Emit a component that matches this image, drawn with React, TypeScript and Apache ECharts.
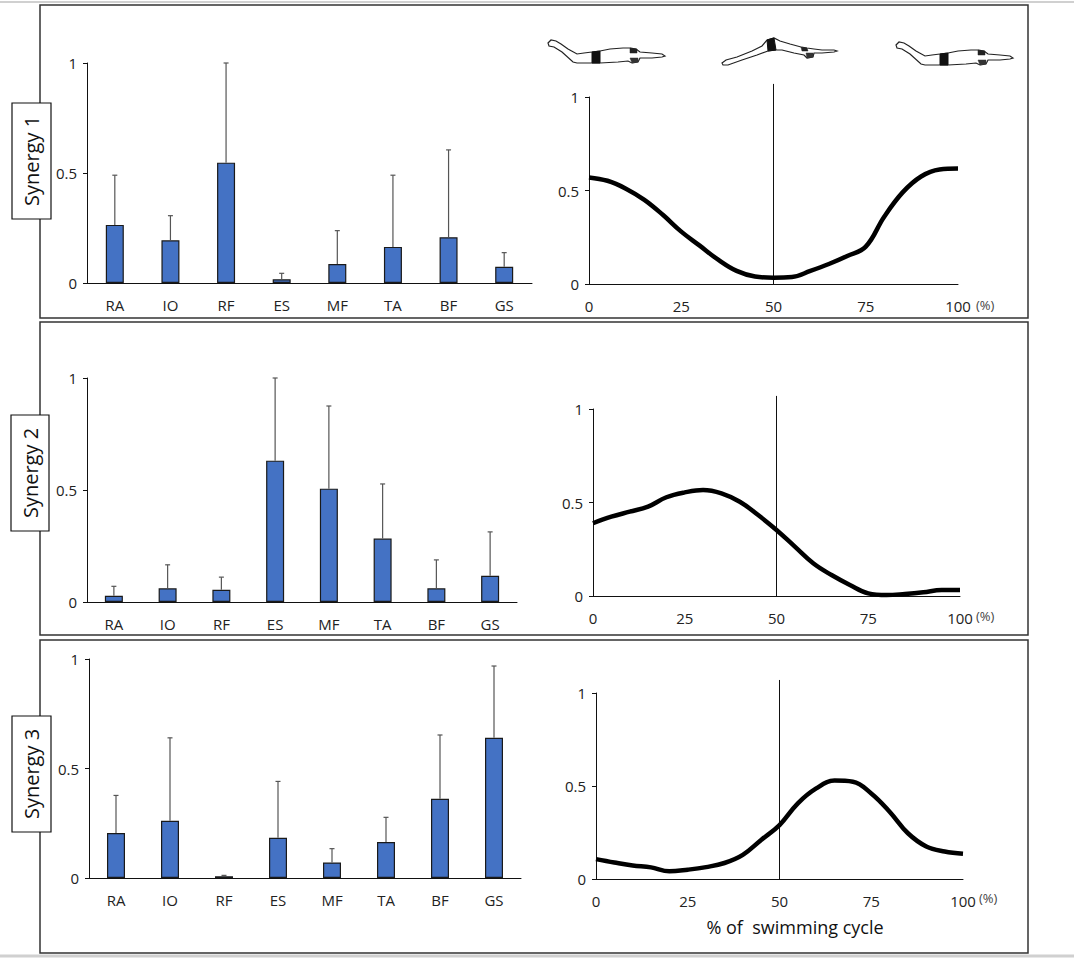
import React, { useEffect, useRef } from "react";
import * as echarts from "echarts";

const muscles = ["RA", "IO", "RF", "ES", "MF", "TA", "BF", "GS"];

const syn1Weights = [0.264, 0.194, 0.547, 0.017, 0.086, 0.164, 0.208, 0.074];
const syn1Upper = [0.49, 0.306, 1.0, 0.044, 0.238, 0.49, 0.605, 0.138];
const syn2Weights = [0.028, 0.061, 0.055, 0.631, 0.506, 0.283, 0.061, 0.117];
const syn2Upper = [0.07, 0.166, 0.111, 1.0, 0.875, 0.527, 0.188, 0.313];
const syn3Weights = [0.205, 0.261, 0.008, 0.184, 0.071, 0.164, 0.362, 0.64];
const syn3Upper = [0.377, 0.64, 0.012, 0.441, 0.134, 0.277, 0.653, 0.968];

const cyclePct = [0, 5, 10, 15, 20, 25, 30, 35, 40, 45, 50, 55, 60, 65, 70, 75, 80, 85, 90, 95, 100];
const syn1Curve = [0.57, 0.552, 0.51, 0.45, 0.37, 0.28, 0.205, 0.13, 0.07, 0.04, 0.034, 0.037, 0.07, 0.107, 0.15, 0.2, 0.36, 0.49, 0.575, 0.612, 0.617];
const syn2Curve = [0.389, 0.424, 0.451, 0.478, 0.528, 0.554, 0.567, 0.549, 0.504, 0.433, 0.353, 0.264, 0.175, 0.112, 0.059, 0.014, 0.005, 0.011, 0.02, 0.032, 0.032];
const syn3Curve = [0.107, 0.089, 0.073, 0.0625, 0.041, 0.05, 0.064, 0.086, 0.13, 0.21, 0.29, 0.407, 0.487, 0.529, 0.523, 0.46, 0.362, 0.246, 0.175, 0.148, 0.136];

const midCycle = 50;
const midLineTop = 1.07;

const FONT = "'Open Sans', 'Noto Sans', sans-serif";

const barGrids = [
  { left: 87, top: 63, width: 445, height: 220 },
  { left: 87, top: 378, width: 430, height: 224 },
  { left: 89, top: 659, width: 432, height: 219 },
];
const lineGrids = [
  { left: 589, top: 97, width: 369, height: 187 },
  { left: 593, top: 409, width: 367, height: 187 },
  { left: 596, top: 693, width: 367, height: 186 },
];

const swimmerFlat = [
  [0, 3], [3, 0], [8, 1], [13, 4], [20, 9], [29, 14], [36, 13], [44, 12], [52, 11], [62, 9],
  [75, 8], [82, 8], [88, 9], [92, 12], [104, 13], [114, 14], [117, 16], [114, 17], [104, 18],
  [92, 18], [90, 22], [84, 23], [80, 21], [70, 22], [52, 23], [44, 23], [29, 23], [25, 22],
  [14, 12], [6, 7], [1, 6],
];
const swimmerFlatBand = [[44, 12], [52, 11], [52, 23], [44, 23]];
const swimmerFlatHead = [[82, 8], [89, 9], [89, 13], [82, 13]];
const swimmerFlatChin = [[82, 18], [90, 18], [90, 22], [84, 23]];

const swimmerV = [
  [0, 25], [4, 22], [15, 19], [30, 13], [40, 8], [45, 2], [52, 0], [58, 3], [68, 6], [79, 9],
  [85, 10], [92, 11], [100, 12], [112, 12], [115, 13], [112, 14], [100, 15], [92, 15], [91, 19],
  [85, 20], [82, 17], [72, 15], [60, 12], [54, 12], [46, 13], [35, 17], [20, 22], [6, 27], [1, 27],
];
const swimmerVBand = [[45, 2], [52, 0], [54, 12], [46, 13]];
const swimmerVHead = [[79, 9], [85, 10], [86, 13], [80, 13]];
const swimmerVChin = [[84, 15], [91, 15], [91, 19], [85, 20]];

function swimmer(x: number, y: number, body: number[][], band: number[][], head: number[][], chin: number[][]) {
  return {
    type: "group",
    x,
    y,
    children: [
      { type: "polygon", shape: { points: body }, style: { fill: "#fff", stroke: "#222", lineWidth: 1.2 } },
      { type: "polygon", shape: { points: band }, style: { fill: "#111", stroke: "#111", lineWidth: 1 } },
      { type: "polygon", shape: { points: head }, style: { fill: "#222", stroke: "#222", lineWidth: 0.5 } },
      { type: "polygon", shape: { points: chin }, style: { fill: "#333", stroke: "#333", lineWidth: 0.5 } },
    ],
  };
}

function synergyLabel(x: number, y: number, w: number, h: number, text: string) {
  return [
    { type: "rect", shape: { x, y, width: w, height: h }, style: { fill: "#fff", stroke: "#111", lineWidth: 1.2 }, z: 10 },
    {
      type: "text",
      x: x + w / 2,
      y: y + h / 2,
      rotation: Math.PI / 2,
      style: { text, font: `20px ${FONT}`, fill: "#111", align: "center", verticalAlign: "middle" },
      z: 11,
    },
  ];
}

export default function App() {
  const ref = useRef<HTMLDivElement>(null);

  useEffect(() => {
    if (!ref.current) return;
    const chart = echarts.init(ref.current, null, { renderer: "svg" });

    const weights = [syn1Weights, syn2Weights, syn3Weights];
    const uppers = [syn1Upper, syn2Upper, syn3Upper];
    const curves = [syn1Curve, syn2Curve, syn3Curve];

    const grids: any[] = [];
    const xAxes: any[] = [];
    const yAxes: any[] = [];
    const series: any[] = [];

    const labelStyle = { color: "#222", fontSize: 15, fontFamily: FONT };

    for (let i = 0; i < 3; i++) {
      grids.push({ ...barGrids[i], containLabel: false });
      const bi = grids.length - 1;
      xAxes.push({
        type: "category",
        gridIndex: bi,
        data: muscles,
        axisLine: { lineStyle: { color: "#111", width: 1 } },
        axisTick: { show: false },
        axisLabel: { ...labelStyle, margin: 14 },
        splitLine: { show: false },
      });
      yAxes.push({
        type: "value",
        gridIndex: bi,
        min: 0,
        max: 1,
        interval: 0.5,
        axisLine: { show: true, lineStyle: { color: "#111", width: 1 } },
        axisTick: { show: true, length: 4, lineStyle: { color: "#111" } },
        axisLabel: { ...labelStyle, margin: 10 },
        splitLine: { show: false },
      });
      series.push({
        type: "bar",
        xAxisIndex: bi,
        yAxisIndex: bi,
        data: weights[i],
        barWidth: 18,
        itemStyle: { color: "#4472C4", borderColor: "#1a1a1a", borderWidth: 1.2 },
        z: 2,
      });
      series.push({
        type: "custom",
        xAxisIndex: bi,
        yAxisIndex: bi,
        data: weights[i].map((v, k) => [k, v, uppers[i][k]]),
        encode: { x: 0, y: [1, 2] },
        renderItem: (params: any, api: any) => {
          const p0 = api.coord([api.value(0), api.value(1)]);
          const p1 = api.coord([api.value(0), api.value(2)]);
          return {
            type: "group",
            children: [
              { type: "line", shape: { x1: p0[0], y1: p0[1], x2: p1[0], y2: p1[1] }, style: { stroke: "#555", lineWidth: 1.2 } },
              { type: "line", shape: { x1: p1[0] - 2.5, y1: p1[1], x2: p1[0] + 2.5, y2: p1[1] }, style: { stroke: "#555", lineWidth: 1.2 } },
            ],
          };
        },
        z: 3,
      });

      grids.push({ ...lineGrids[i], containLabel: false });
      const li = grids.length - 1;
      xAxes.push({
        type: "value",
        gridIndex: li,
        min: 0,
        max: 100,
        interval: 25,
        axisLine: { show: true, onZero: false, lineStyle: { color: "#111", width: 1 } },
        axisTick: { show: false },
        axisLabel: { ...labelStyle, margin: 14 },
        splitLine: { show: false },
      });
      yAxes.push({
        type: "value",
        gridIndex: li,
        min: 0,
        max: 1,
        interval: 0.5,
        axisLine: { show: true, lineStyle: { color: "#111", width: 1 } },
        axisTick: { show: true, length: 4, lineStyle: { color: "#111" } },
        axisLabel: { ...labelStyle, margin: 10 },
        splitLine: { show: false },
      });
      series.push({
        type: "line",
        xAxisIndex: li,
        yAxisIndex: li,
        data: [[midCycle, 0], [midCycle, midLineTop]],
        clip: false,
        symbol: "none",
        lineStyle: { color: "#111", width: 1 },
        z: 2,
      });
      series.push({
        type: "line",
        xAxisIndex: li,
        yAxisIndex: li,
        data: cyclePct.map((p, k) => [p, curves[i][k]]),
        smooth: 0.4,
        symbol: "none",
        lineStyle: { color: "#000", width: 4.5 },
        z: 3,
      });
    }

    const pctStyle = { text: "(%)", font: `13px ${FONT}`, fill: "#444", align: "left", verticalAlign: "middle" };

    const graphic: any[] = [
      { type: "line", shape: { x1: 0, y1: 2, x2: 1074, y2: 2 }, style: { stroke: "#d0d0d0", lineWidth: 2 } },
      { type: "line", shape: { x1: 0, y1: 956, x2: 1074, y2: 956 }, style: { stroke: "#d0d0d0", lineWidth: 3 } },
      { type: "rect", shape: { x: 40, y: 5, width: 988, height: 313 }, style: { fill: "none", stroke: "#333", lineWidth: 1.5 } },
      { type: "rect", shape: { x: 40, y: 322, width: 988, height: 313 }, style: { fill: "none", stroke: "#333", lineWidth: 1.5 } },
      { type: "rect", shape: { x: 40, y: 640, width: 988, height: 313 }, style: { fill: "none", stroke: "#333", lineWidth: 1.5 } },
      ...synergyLabel(12, 103, 39, 116, "Synergy 1"),
      ...synergyLabel(11, 415, 38, 116, "Synergy 2"),
      ...synergyLabel(12, 716, 39, 116, "Synergy 3"),
      { type: "text", x: 976, y: 305, style: pctStyle },
      { type: "text", x: 976, y: 616, style: pctStyle },
      { type: "text", x: 979, y: 898, style: pctStyle },
      { type: "text", x: 795, y: 927, style: { text: "% of  swimming cycle", font: `18px ${FONT}`, fill: "#111", align: "center", verticalAlign: "middle" } },
      swimmer(548, 40, swimmerFlat, swimmerFlatBand, swimmerFlatHead, swimmerFlatChin),
      swimmer(722, 38, swimmerV, swimmerVBand, swimmerVHead, swimmerVChin),
      swimmer(896, 42, swimmerFlat, swimmerFlatBand, swimmerFlatHead, swimmerFlatChin),
    ];

    chart.setOption({
      animation: false,
      backgroundColor: "#fff",
      textStyle: { fontFamily: FONT },
      grid: grids,
      xAxis: xAxes,
      yAxis: yAxes,
      series,
      graphic,
    });

    return () => chart.dispose();
  }, []);

  return <div ref={ref} style={{ position: "absolute", left: 0, top: 0, width: 1074, height: 959 }} />;
}
